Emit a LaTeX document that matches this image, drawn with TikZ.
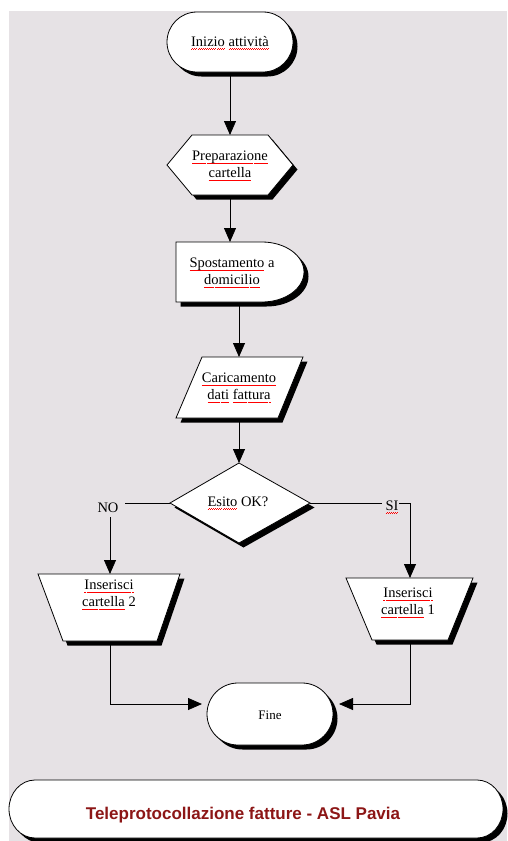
\documentclass[tikz,border=0pt]{standalone}
\usepackage{fontspec}
\setmainfont{Liberation Serif}
\newfontfamily\titlefont{Liberation Sans}
\usetikzlibrary{arrows.meta}
\newsavebox\wordbox
\newcommand\wavepiece{\hbox{\rule[0pt]{1pt}{0.6pt}\rule[0.6pt]{1pt}{0.6pt}}}
\newcommand\rw[1]{\leavevmode\sbox\wordbox{#1}\rlap{\raisebox{-3pt}{\textcolor{red}{\hbox to \wd\wordbox{\xleaders\wavepiece\hfill}}}}\usebox\wordbox}
\definecolor{bgc}{RGB}{230,226,229}
\definecolor{titlered}{RGB}{140,22,22}
\newcommand\shadowed[1]{\fill[shd] #1; \path[shp] #1;}
\tikzset{
  shp/.style={fill=white,draw=black,line width=0.8pt},
  shd/.style={fill=black,xshift=4.5pt,yshift=-4.5pt},
  txt/.style={font=\fontsize{14.5}{17}\selectfont,align=center,inner sep=0pt},
  arr/.style={-{Triangle[length=14pt,width=12pt]},line width=0.8pt},
  ln/.style={line width=0.8pt}
}
\begin{document}
\begin{tikzpicture}[x=1pt,y=1pt]
\useasboundingbox (0,0) rectangle (507,-841);
\fill[bgc] (9,-11) rectangle (507,-841);

% shapes
\shadowed{(197,-12) -- (263,-12) arc[start angle=90,end angle=-90,radius=30] -- (197,-72) arc[start angle=270,end angle=90,radius=30] -- cycle}
\shadowed{(167,-165) -- (192,-135) -- (268,-135) -- (293,-165) -- (268,-195) -- (192,-195) -- cycle}
\shadowed{(176,-242) -- (262,-242) arc[start angle=90,end angle=-90,x radius=42,y radius=30] -- (176,-302) -- cycle}
\shadowed{(202,-357) -- (303,-357) -- (278,-418) -- (176,-418) -- cycle}
\shadowed{(239,-463) -- (310,-503) -- (239,-543) -- (170,-503) -- cycle}
\shadowed{(38,-574) -- (180,-574) -- (157,-641) -- (63,-641) -- cycle}
\shadowed{(346,-578) -- (473,-578) -- (448,-640) -- (372,-640) -- cycle}
\shadowed{(238,-683) -- (302,-683) arc[start angle=90,end angle=-90,x radius=31,y radius=31] -- (238,-745) arc[start angle=270,end angle=90,x radius=31,y radius=31] -- cycle}
\shadowed{(35,-780) -- (477,-780) arc[start angle=90,end angle=-90,x radius=26,y radius=29] -- (35,-838) arc[start angle=270,end angle=90,x radius=26,y radius=29] -- cycle}

% texts
\node[txt] (start) at (230,-43) {\rw{Inizio} \rw{attività}};
\node[txt] (prep) at (230,-166) {\rw{Preparazione}\\\rw{cartella}};
\node[txt] (spost) at (232,-273) {\rw{Spostamento} a\\\rw{domicilio}};
\node[txt] (caric) at (239,-388) {\rw{Caricamento}\\\rw{dati} \rw{fattura}};
\node[txt] (esito) at (238,-503) {\rw{Esito} OK?};
\node[txt] (no) at (108,-508) {NO};
\node[txt] (si) at (392,-507) {\rw{SI}};
\node[txt] (ins2) at (109,-595) {\rw{Inserisci}\\\rw{cartella} 2};
\node[txt] (ins1) at (408,-603) {\rw{Inserisci}\\\rw{cartella} 1};
\node[txt,font=\fontsize{13}{15}\selectfont] (fine) at (270,-715) {Fine};
\node[inner sep=0pt,font=\titlefont\bfseries\fontsize{17}{19}\selectfont,text=titlered] (title) at (243,-815) {Teleprotocollazione fatture - ASL Pavia};

% connection points
\coordinate (start-s) at (230,-76);
\coordinate (prep-n) at (230,-135);
\coordinate (prep-s) at (230,-199);
\coordinate (spost-n) at (230,-242);
\coordinate (spost-s) at (239,-306);
\coordinate (caric-n) at (239,-357);
\coordinate (caric-s) at (239,-422);
\coordinate (esito-n) at (239,-463);
\coordinate (esito-w) at (170,-503);
\coordinate (esito-e) at (310,-503);
\coordinate (no-e) at (125,-503);
\coordinate (no-s) at (110,-517);
\coordinate (si-w) at (382,-503);
\coordinate (si-e) at (399,-503);
\coordinate (sicorner) at (410,-503);
\coordinate (ins2-n) at (110,-574);
\coordinate (ins1-n) at (410,-578);
\coordinate (ins2-s) at (110,-645);
\coordinate (ins1-s) at (410,-644);
\coordinate (lcorner) at (110,-704);
\coordinate (rcorner) at (410,-704);
\coordinate (fine-w) at (202,-704);
\coordinate (fine-e) at (339,-704);

% connectors
\draw[arr] (start-s) -- (prep-n);
\draw[arr] (prep-s) -- (spost-n);
\draw[arr] (spost-s) -- (caric-n);
\draw[arr] (caric-s) -- (esito-n);
\draw[ln] (esito-w) -- (no-e);
\draw[arr] (no-s) -- (ins2-n);
\draw[ln] (esito-e) -- (si-w);
\draw[arr] (si-e) -- (sicorner) -- (ins1-n);
\draw[arr] (ins2-s) -- (lcorner) -- (fine-w);
\draw[arr] (ins1-s) -- (rcorner) -- (fine-e);
\end{tikzpicture}
\end{document}
